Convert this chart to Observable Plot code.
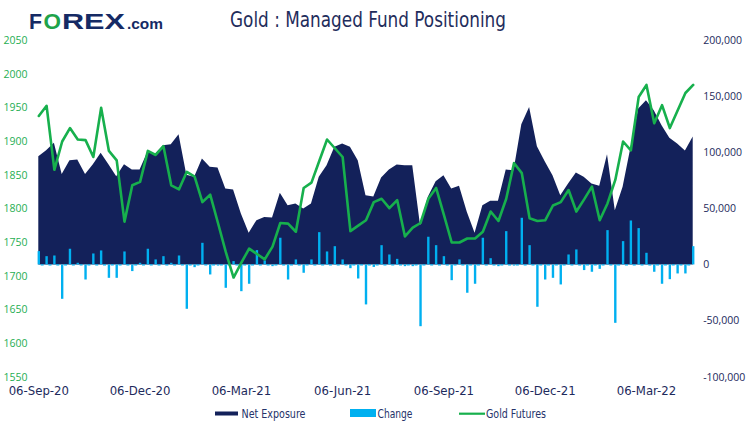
<!DOCTYPE html>
<html><head><meta charset="utf-8">
<script src="https://cdn.jsdelivr.net/npm/d3@7"></script>
<script src="https://cdn.jsdelivr.net/npm/@observablehq/plot@0.6"></script>
<style>
body{margin:0;background:#fff;}
#wrap{position:relative;width:749px;height:428px;overflow:hidden;}
#head{position:absolute;left:0;top:0;z-index:2;}
#chart{position:absolute;left:0;top:28px;z-index:1;}
#chart svg{background:transparent !important;overflow:visible;}
#legend{position:absolute;left:0;top:400px;z-index:2;}
</style></head><body>
<div id="wrap">
<div id="chart"></div>
<svg id="head" width="749" height="34"></svg>
<svg id="legend" width="749" height="28"></svg>
</div>
<script>
// ---- data (thousands of contracts for positioning, USD for gold) ----
const netExposure = [
  96.5, 101.8, 108.4, 80.5, 92.9, 93.5, 80.5, 89.4, 99.5, 89.4,
  78.7, 89.4, 84.6, 84.6, 100.4, 98.9, 106.3, 107.2, 116.0, 80.0,
  78.1, 94.4, 87.0, 86.4, 67.7, 66.8, 45.4, 28.2, 39.5, 42.4,
  41.8, 63.8, 52.8, 54.3, 49.9, 54.3, 78.1, 88.5, 104.8, 107.8,
  104.8, 92.9, 61.7, 60.6, 77.5, 84.6, 89.1, 88.5, 88.5, 35.0,
  60.3, 74.2, 79.6, 67.7, 70.1, 46.9, 28.2, 52.8, 56.7, 56.7,
  84.6, 84.0, 125.0, 140.4, 105.4, 92.0, 79.6, 61.7, 72.2, 82.0,
  78.1, 72.2, 70.1, 98.3, 48.4, 69.2, 104.0, 139.0, 146.4, 137.5,
  124.1, 113.0, 107.8, 101.5, 114.0
];
const change = [
  11.9, 7.4, 8.0, -30.6, 14.0, 1.5, -13.4, 9.8, 12.5, -11.9,
  -11.9, 11.6, -5.9, 1.5, 14.0, 4.5, 7.4, 1.5, 8.0, -39.5,
  -2.4, 19.3, -8.9, -1.0, -20.8, 3.0, -23.8, -17.2, 12.8, 3.6,
  -1.5, 23.8, -13.4, 4.5, -7.4, 4.5, 28.8, 11.6, 16.3, 4.5,
  -3.3, -12.5, -35.6, -2.2, 17.2, 8.9, 5.0, -1.5, -1.5, -55.0,
  24.7, 17.2, 7.4, -14.0, 4.5, -25.2, -17.2, 23.8, 5.6, -1.5,
  29.7, -1.0, 41.6, 17.2, -37.7, -13.4, -11.9, -17.8, 8.9, 13.4,
  -5.0, -6.5, -3.9, 30.6, -52.0, 20.8, 39.2, 32.4, 10.4, -6.5,
  -17.2, -13.1, -8.0, -8.0, 16.3
];
const goldFutures = [
  1938, 1953, 1858, 1900, 1920, 1903, 1902, 1877, 1950, 1886,
  1872, 1781, 1835, 1840, 1886, 1880, 1893, 1835, 1829, 1855,
  1848, 1810, 1821, 1779, 1736, 1698, 1720, 1741, 1733, 1725,
  1744, 1779, 1778, 1766, 1831, 1839, 1871, 1903, 1890, 1877,
  1767, 1775, 1783, 1810, 1815, 1801, 1813, 1759, 1772, 1779,
  1815, 1831, 1791, 1750, 1750, 1756, 1756, 1766, 1796, 1782,
  1815, 1868, 1853, 1786, 1782, 1783, 1805, 1810, 1828, 1796,
  1814, 1833, 1783, 1808, 1843, 1900, 1887, 1966, 1984, 1927,
  1954, 1920, 1946, 1972, 1984
];
const xTickLabels = ["06-Sep-20","06-Dec-20","06-Mar-21","06-Jun-21","06-Sep-21","06-Dec-21","06-Mar-22"];
const xTickWeek = [0, 13, 26, 39, 52, 65, 78];
const goldTicks = [1550,1600,1650,1700,1750,1800,1850,1900,1950,2000,2050];
const posTicks = [-100000,-50000,0,50000,100000,150000,200000];
const titleText = "Gold : Managed Fund Positioning";
const legendLabels = ["Net Exposure","Change","Gold Futures"];

// ---- styles ----
const NAVY = "#13215a", BLUE = "#00b0f0", GREEN = "#17b04d";
const GREEN_TXT = "#1fae52", NAVY_TXT = "#1d2a5c";
const NARROW = "'Liberation Sans Narrow','DejaVu Sans Condensed',sans-serif";
const AXF = "'Open Sans',sans-serif";

// gold (left axis 1550..2050) shares the frame with positions (-100k..200k)
const goldToPos = g => (g - 1550) * 600 - 100000;
const posToGold = p => (p + 100000) / 600 + 1550;

const data = netExposure.map((v, i) => ({i, net: v * 1000, change: change[i] * 1000, gold: goldFutures[i]}));

const chart = Plot.plot({
  width: 749, height: 372,
  marginLeft: 38.3, marginRight: 56.3, marginTop: 12, marginBottom: 23.3,
  x: {type: "linear", domain: [0, data.length - 1]},
  y: {domain: [-100000, 200000]},
  marks: [
    Plot.areaY(data, {x: "i", y: "net", fill: NAVY, curve: "linear"}),
    Plot.ruleY([0], {stroke: BLUE, strokeWidth: 1.3, strokeDasharray: "3,4.79", strokeDashoffset: 5.4}),
    Plot.ruleX(data, {x: "i", y1: 0, y2: "change", stroke: BLUE, strokeWidth: 2.4}),
    Plot.lineY(data, {x: "i", y: d => goldToPos(d.gold), stroke: GREEN, strokeWidth: 2.6, curve: "linear"}),
    Plot.axisY(goldTicks.map(goldToPos), {anchor: "left", tickSize: 0, tickPadding: 11.3, label: null,
      tickFormat: d => String(Math.round(posToGold(d))), color: GREEN_TXT, fontSize: 10.5, fontFamily: AXF}),
    Plot.axisY(posTicks, {anchor: "right", tickSize: 0, tickPadding: 10, label: null,
      tickFormat: d => d.toLocaleString("en-US"), color: NAVY_TXT, fontSize: 10.5, fontFamily: AXF}),
    Plot.axisX(xTickWeek, {anchor: "bottom", tickSize: 0, tickPadding: 9, label: null,
      tickFormat: d => xTickLabels[xTickWeek.indexOf(d)], color: NAVY_TXT, fontSize: 13, fontFamily: NARROW})
  ]
});
document.getElementById("chart").appendChild(chart);

// ---- header: logo + title ----
const head = d3.select("#head");
const logo = head.append("g").attr("font-family", "'Liberation Sans',Arial,sans-serif").attr("font-weight", "bold");
logo.append("text").attr("x", 29).attr("y", 29).attr("font-size", 22).attr("fill", "#152a64")
  .attr("textLength", 13).attr("lengthAdjust", "spacingAndGlyphs").text("F");
logo.append("text").attr("x", 43.5).attr("y", 29).attr("font-size", 22).attr("fill", "#1ea34a")
  .attr("textLength", 17.5).attr("lengthAdjust", "spacingAndGlyphs").text("O");
logo.append("text").attr("x", 62).attr("y", 29).attr("font-size", 22).attr("fill", "#152a64")
  .attr("textLength", 63).attr("lengthAdjust", "spacingAndGlyphs").text("REX");
logo.append("text").attr("x", 127).attr("y", 29).attr("font-size", 14).attr("fill", "#152a64")
  .attr("textLength", 36).attr("lengthAdjust", "spacingAndGlyphs").text(".com");
head.append("text").attr("x", 230).attr("y", 27).attr("font-family", NARROW).attr("font-size", 21)
  .attr("fill", "#1f2d5c").attr("textLength", 276).attr("lengthAdjust", "spacingAndGlyphs").text(titleText);

// ---- legend ----
const lg = d3.select("#legend").attr("font-family", NARROW).attr("font-size", 13).attr("fill", "#26336a");
lg.append("rect").attr("x", 215).attr("y", 11.5).attr("width", 23).attr("height", 4).attr("fill", NAVY);
lg.append("text").attr("x", 241.5).attr("y", 18).attr("textLength", 64).attr("lengthAdjust", "spacingAndGlyphs").text(legendLabels[0]);
lg.append("rect").attr("x", 350).attr("y", 9).attr("width", 26).attr("height", 8).attr("fill", BLUE);
lg.append("text").attr("x", 377.5).attr("y", 18).attr("textLength", 35).attr("lengthAdjust", "spacingAndGlyphs").text(legendLabels[1]);
lg.append("line").attr("x1", 459).attr("x2", 485).attr("y1", 13.7).attr("y2", 13.7).attr("stroke", GREEN).attr("stroke-width", 2.2);
lg.append("text").attr("x", 486).attr("y", 18).attr("textLength", 60).attr("lengthAdjust", "spacingAndGlyphs").text(legendLabels[2]);
</script>
</body></html>
